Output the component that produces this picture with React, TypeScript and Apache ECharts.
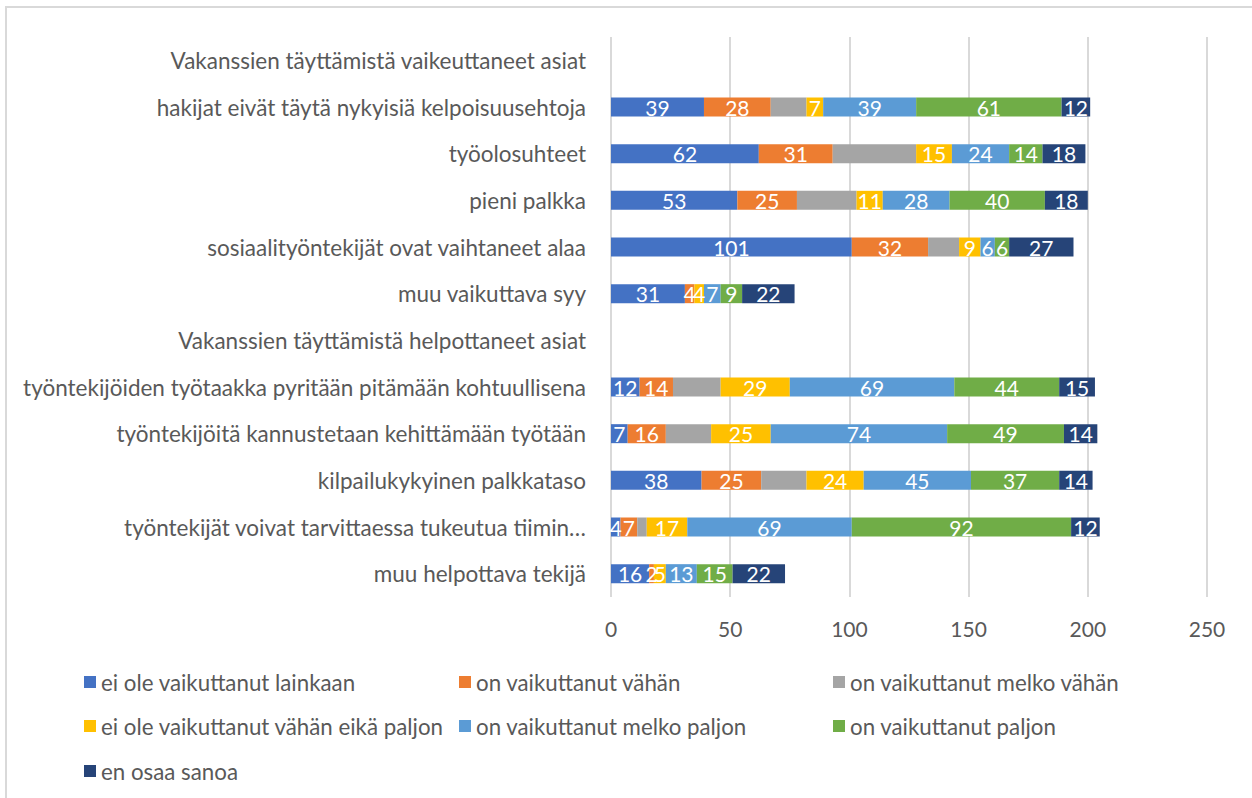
import React, { useEffect, useRef } from "react";
import * as echarts from "echarts";

const categories = [
  "Vakanssien täyttämistä vaikeuttaneet asiat",
  "hakijat eivät täytä nykyisiä kelpoisuusehtoja",
  "työolosuhteet",
  "pieni palkka",
  "sosiaalityöntekijät ovat vaihtaneet alaa",
  "muu vaikuttava syy",
  "Vakanssien täyttämistä helpottaneet asiat",
  "työntekijöiden työtaakka pyritään pitämään kohtuullisena",
  "työntekijöitä kannustetaan kehittämään työtään",
  "kilpailukykyinen palkkataso",
  "työntekijät voivat tarvittaessa tukeutua tiimin…",
  "muu helpottava tekijä",
];

const seriesNames = [
  "ei ole vaikuttanut lainkaan",
  "on vaikuttanut vähän",
  "on vaikuttanut melko vähän",
  "ei ole vaikuttanut vähän eikä paljon",
  "on vaikuttanut melko paljon",
  "on vaikuttanut paljon",
  "en osaa sanoa",
];

const eiLainkaan = [null, 39, 62, 53, 101, 31, null, 12, 7, 38, 4, 16];
const vahan = [null, 28, 31, 25, 32, 4, null, 14, 16, 25, 7, 2];
const melkoVahan = [null, 15, 35, 25, 13, 0, null, 20, 19, 19, 4, 0];
const eiVahanEikaPaljon = [null, 7, 15, 11, 9, 4, null, 29, 25, 24, 17, 5];
const melkoPaljon = [null, 39, 24, 28, 6, 7, null, 69, 74, 45, 69, 13];
const paljon = [null, 61, 14, 40, 6, 9, null, 44, 49, 37, 92, 15];
const enOsaa = [null, 12, 18, 18, 27, 22, null, 15, 14, 14, 12, 22];

const seriesData = [eiLainkaan, vahan, melkoVahan, eiVahanEikaPaljon, melkoPaljon, paljon, enOsaa];
const colors = ["#4472C4", "#ED7D31", "#A5A5A5", "#FFC000", "#5B9BD5", "#70AD47", "#264478"];
const showLabel = [true, true, false, true, true, true, true];

const xTicks = [0, 50, 100, 150, 200, 250];

const FONT = "Lato";

const legendPos = [
  { left: 79, top: 666 },
  { left: 454, top: 666 },
  { left: 828, top: 666 },
  { left: 79, top: 710 },
  { left: 454, top: 710 },
  { left: 828, top: 710 },
  { left: 79, top: 755 },
];

export default function App() {
  const ref = useRef<HTMLDivElement>(null);
  useEffect(() => {
    document.body.style.margin = "0";
    const chart = echarts.init(ref.current!, null, { renderer: "svg" });
    chart.setOption({
      animation: false,
      color: colors,
      textStyle: { fontFamily: FONT },
      graphic: [
        {
          type: "rect",
          shape: { x: 6, y: 7, width: 1270, height: 820 },
          style: { fill: "none", stroke: "#d9d9d9", lineWidth: 2 },
          silent: true,
        },
      ],
      grid: { left: 611, right: 45, top: 37, bottom: 201, containLabel: false },
      xAxis: {
        type: "value",
        min: xTicks[0],
        max: xTicks[xTicks.length - 1],
        interval: 50,
        axisLine: { show: false },
        axisTick: { show: false },
        splitLine: { lineStyle: { color: "#d9d9d9", width: 2 } },
        axisLabel: { color: "#595959", fontSize: 21, margin: 21, fontFamily: FONT },
      },
      yAxis: {
        type: "category",
        inverse: true,
        data: categories,
        axisLine: { show: false },
        axisTick: { show: false },
        axisLabel: { color: "#595959", fontSize: 22.5, margin: 25, fontFamily: FONT },
      },
      legend: legendPos.map((p, i) => ({
        data: [seriesNames[i]],
        left: p.left,
        top: p.top,
        itemWidth: 12,
        itemHeight: 12,
        itemGap: 0,
        icon: "rect",
        textStyle: { color: "#595959", fontSize: 22.3, fontFamily: FONT },
      })),
      series: seriesNames.map((name, i) => ({
        name,
        type: "bar",
        stack: "total",
        data: seriesData[i],
        barWidth: 19,
        itemStyle: { color: colors[i] },
        label: {
          show: showLabel[i],
          position: "inside",
          color: "#ffffff",
          fontSize: 21,
          fontFamily: FONT,
          formatter: (p: any) => (p.value ? String(p.value) : ""),
        },
      })),
    });
    return () => chart.dispose();
  }, []);
  return <div ref={ref} style={{ width: 1252, height: 798 }} />;
}
